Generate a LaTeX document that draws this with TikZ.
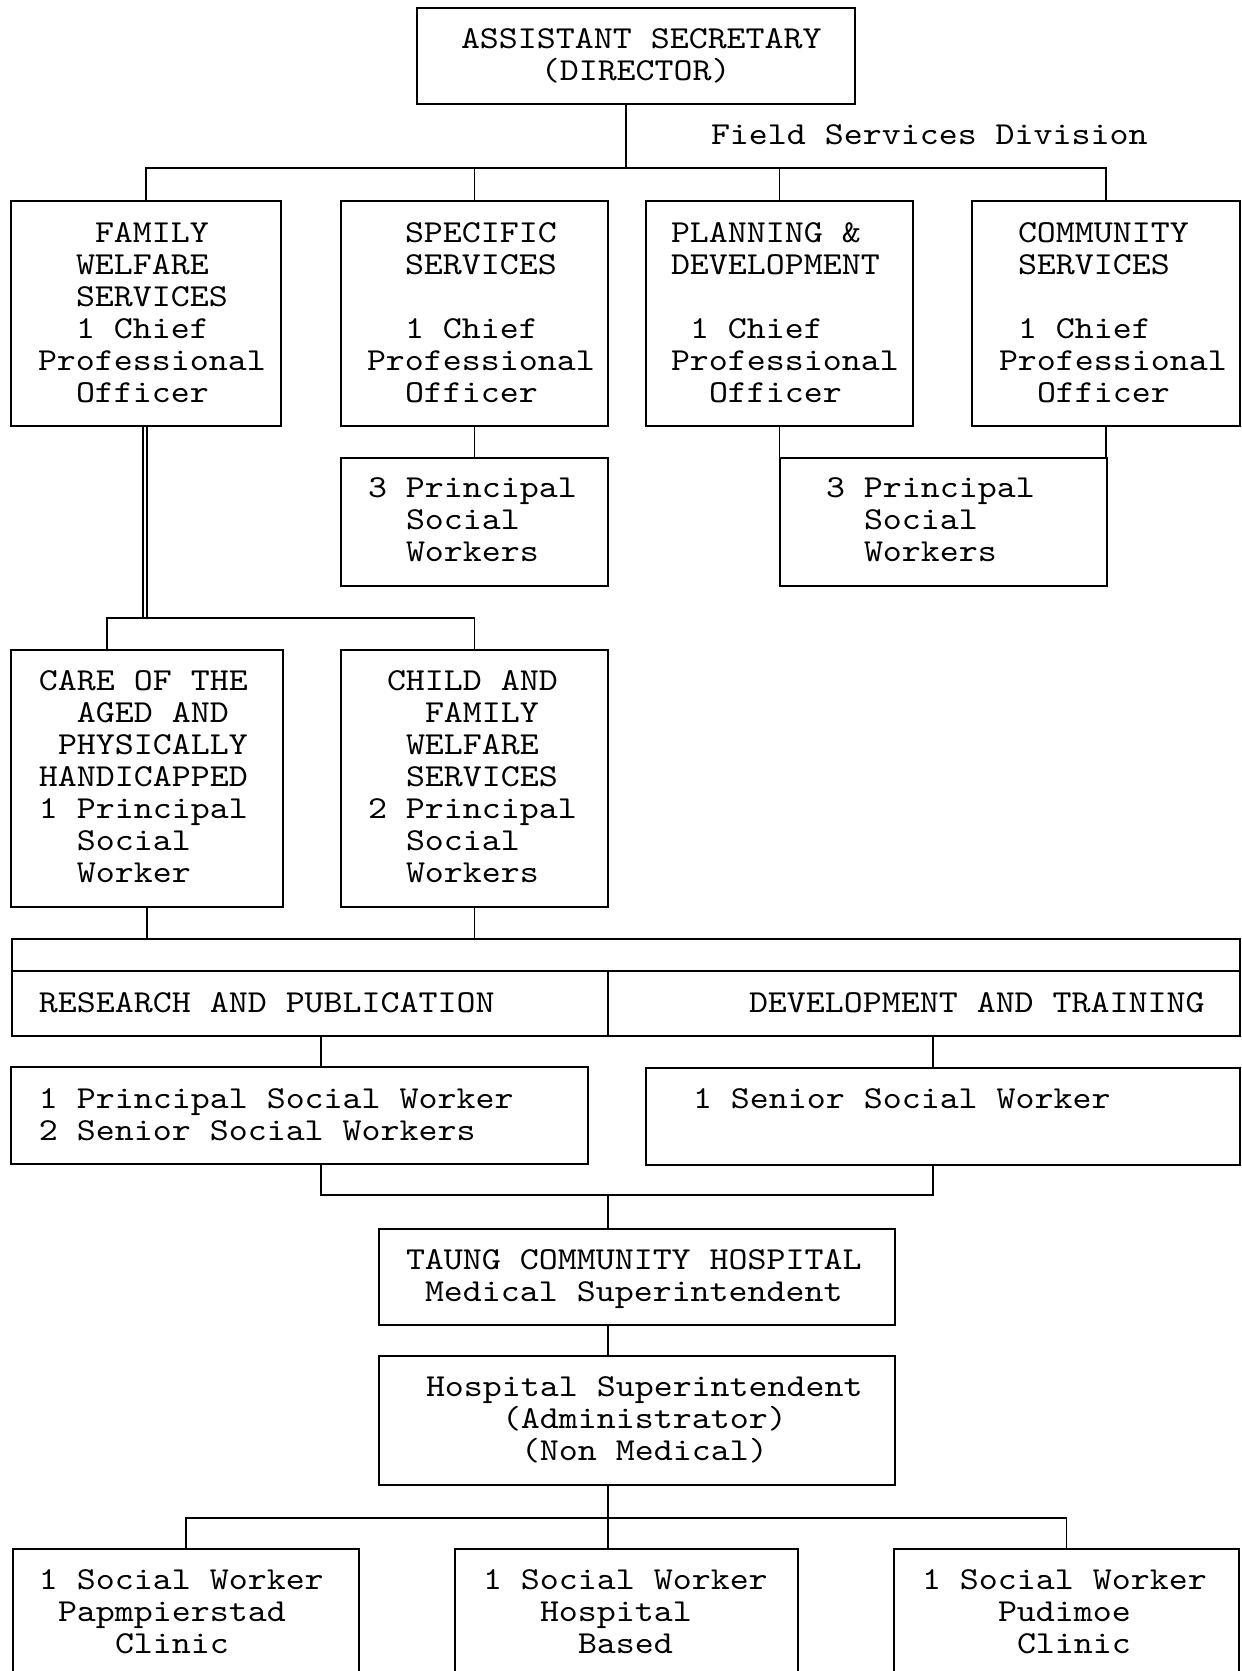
\documentclass[tikz,border=0pt]{standalone}
\usepackage{fontspec}
\usetikzlibrary{fit}
\newfontfamily\tw{lmmono10-regular.otf}[FakeStretch=1.13]
\newlength\cw \setlength\cw{9.5pt}
\newcommand\ind[1]{\hspace*{#1\cw}}
\newcommand\bx[5]{\node[box, fit={(#2,#3) (#4,#5)}] (#1) {};}
\newcommand\tx[4]{\node[txt] (#1) at (#2,#3-28) {\rule{0pt}{14pt}#4};}
\begin{document}
\begin{tikzpicture}[x=0.5pt,y=-0.5pt,
  box/.style={draw, line width=0.9pt, inner sep=0pt, outer sep=0pt},
  conn/.style={line width=0.9pt},
  txt/.style={anchor=north west, inner sep=0pt, outer sep=0pt, align=left,
    font=\tw\fontsize{16pt}{16pt}\selectfont}]
\useasboundingbox (0,0) rectangle (1242,1671);
\clip (0,0) rectangle (1242,1671);
% boxes
\bx{dir}{417}{8}{855}{104}
\bx{fam}{11}{201}{281}{426}
\bx{spec}{341}{201}{608}{426}
\bx{plan}{646}{201}{913}{426}
\bx{comm}{972}{201}{1240}{426}
\bx{spw}{341}{458}{608}{586}
\bx{pdw}{780}{458}{1107}{586}
\bx{care}{11}{650}{283}{907}
\bx{child}{341}{650}{608}{907}
\bx{band}{12}{939}{1240}{971}
\bx{rp}{12}{971}{608}{1036}
\bx{dt}{608}{971}{1240}{1036}
\bx{rpw}{11}{1067}{588}{1164}
\bx{ssw}{646}{1068}{1240}{1165}
\bx{taung}{379}{1229}{895}{1325}
\bx{hosp}{379}{1356}{895}{1485}
\bx{bl}{13}{1549}{359}{1700}
\bx{bm}{455}{1549}{798}{1700}
\bx{br}{894}{1549}{1239}{1700}
% connectors
\coordinate (bus) at (626,168);
\draw[conn] (626,0 |- dir.south) -- (bus);
\draw[conn] (fam.north) -- (fam.north |- bus) -| (comm.north);
\draw[conn] (spec.north) -- (spec.north |- bus);
\draw[conn] (plan.north) -- (plan.north |- bus);
\draw[conn] (spec.south) -- (spw.north);
\draw[conn] (plan.south) -- (plan.south |- pdw.north);
\draw[conn] (comm.south) -- (comm.south |- pdw.north);
\coordinate (fj) at (474.5,618);
\draw[conn] (143,0 |- fam.south) -- (143,618);
\draw[conn] (147,0 |- fam.south) -- (147,618);
\draw[conn] (107,0 |- care.north) |- (fj) -- (child.north);
\draw[conn] (care.south) -- (care.south |- band.north);
\draw[conn] (child.south) -- (child.south |- band.north);
\draw[conn] (321,0 |- rp.south) -- (321,0 |- rpw.north);
\draw[conn] (933,0 |- dt.south) -- (933,0 |- ssw.north);
\coordinate (rj) at (608,1195);
\draw[conn] (321,0 |- rpw.south) |- (rj) -| (933,0 |- ssw.south);
\draw[conn] (rj) -- (rj |- taung.north);
\draw[conn] (608,0 |- taung.south) -- (608,0 |- hosp.north);
\coordinate (hj) at (608,1518);
\draw[conn] (608,0 |- hosp.south) -- (608,0 |- bm.north);
\draw[conn] (bl.north) |- (hj) -| (br.north);
% texts
\tx{t-dir}{461}{48}{ASSISTANT SECRETARY\\\ind{4.2}(DIRECTOR)}
\tx{t-field}{711}{144}{Field Services Division}
\tx{t-fam}{38}{242}{\ind{3}FAMILY\\\ind{2}WELFARE\\\ind{2}SERVICES\\\ind{2}1 Chief\\Professional\\\ind{2}Officer}
\tx{t-spec}{367}{242}{\ind{2}SPECIFIC\\\ind{2}SERVICES\\\mbox{}\\\ind{2}1 Chief\\Professional\\\ind{2}Officer}
\tx{t-plan}{671}{242}{PLANNING \&\\DEVELOPMENT\\\mbox{}\\\ind{1}1 Chief\\Professional\\\ind{2}Officer}
\tx{t-comm}{999}{242}{\ind{1}COMMUNITY\\\ind{1}SERVICES\\\mbox{}\\\ind{1}1 Chief\\Professional\\\ind{2}Officer}
\tx{t-spw}{368}{497}{3 Principal\\\ind{2}Social\\\ind{2}Workers}
\tx{t-pdw}{826}{497}{3 Principal\\\ind{2}Social\\\ind{2}Workers}
\tx{t-care}{39}{690}{CARE OF THE\\\ind{2}AGED AND\\\ind{1}PHYSICALLY\\HANDICAPPED\\1 Principal\\\ind{2}Social\\\ind{2}Worker}
\tx{t-child}{368}{690}{\ind{1}CHILD AND\\\ind{3}FAMILY\\\ind{2}WELFARE\\\ind{2}SERVICES\\2 Principal\\\ind{2}Social\\\ind{2}Workers}
\tx{t-rp}{39}{1012}{RESEARCH AND PUBLICATION}
\tx{t-dt}{749}{1012}{DEVELOPMENT AND TRAINING}
\tx{t-rpw}{39}{1108}{1 Principal Social Worker\\2 Senior Social Workers}
\tx{t-ssw}{693}{1108}{1 Senior Social Worker}
\tx{t-taung}{406}{1269}{TAUNG COMMUNITY HOSPITAL\\\ind{1}Medical Superintendent}
\tx{t-hosp}{426}{1396}{Hospital Superintendent\\\ind{4}(Administrator)\\\ind{5}(Non Medical)}
\tx{t-bl}{39}{1589}{1 Social Worker\\\ind{1}Papmpierstad\\\ind{4}Clinic}
\tx{t-bm}{483}{1589}{1 Social Worker\\\ind{3}Hospital\\\ind{5}Based}
\tx{t-br}{922}{1589}{1 Social Worker\\\ind{4}Pudimoe\\\ind{5}Clinic}
\end{tikzpicture}
\end{document}
